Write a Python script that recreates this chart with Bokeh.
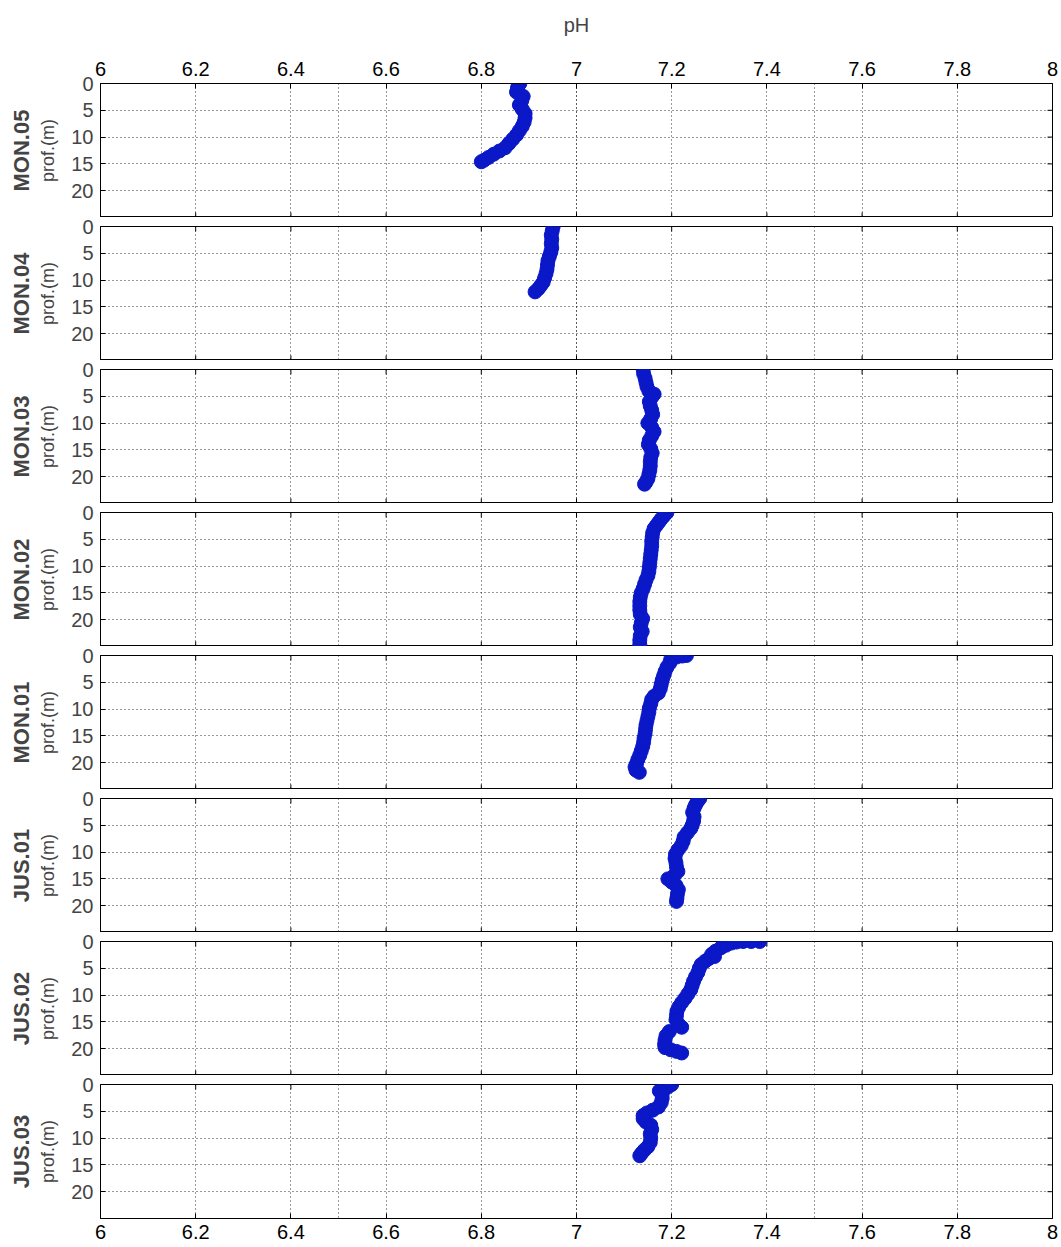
from bokeh.plotting import figure
from bokeh.models import Range1d, LinearAxis, FixedTicker, NumeralTickFormatter, Grid
from bokeh.layouts import column
from bokeh.embed import file_html
from bokeh.resources import INLINE

# ---------------- data ----------------
stations = ["MON.05", "MON.04", "MON.03", "MON.02", "MON.01", "JUS.01", "JUS.02", "JUS.03"]

mon05_depth = [0, 0.8, 1.6, 2.4, 3.2, 4.0, 4.8, 5.6, 6.4, 7.2, 8.0, 8.8, 9.6, 10.4, 11.2, 12.0, 12.6, 13.2, 13.8, 14.3, 14.6]
mon05_ph = [6.881, 6.876, 6.874, 6.888, 6.885, 6.880, 6.886, 6.892, 6.892, 6.890, 6.886, 6.880, 6.874, 6.866, 6.858, 6.850, 6.838, 6.826, 6.815, 6.806, 6.800]

mon04_depth = [0, 0.8, 1.6, 2.4, 3.2, 4.0, 4.8, 5.6, 6.4, 7.2, 8.0, 8.8, 9.6, 10.4, 11.0, 11.6, 12.2]
mon04_ph = [6.951, 6.949, 6.947, 6.948, 6.947, 6.948, 6.946, 6.943, 6.940, 6.939, 6.938, 6.936, 6.933, 6.930, 6.925, 6.920, 6.913]

mon03_depth = [0, 0.8, 1.6, 2.4, 3.2, 4.0, 4.6, 5.2, 6.0, 6.8, 7.6, 8.4, 9.2, 10.0, 10.8, 11.6, 12.4, 13.2, 14.0, 14.8, 15.6, 16.4, 17.2, 18.0, 18.8, 19.6, 20.4, 21.0, 21.4]
mon03_ph = [7.140, 7.141, 7.144, 7.146, 7.148, 7.152, 7.163, 7.158, 7.153, 7.155, 7.158, 7.160, 7.156, 7.150, 7.158, 7.163, 7.158, 7.153, 7.151, 7.156, 7.159, 7.156, 7.155, 7.155, 7.154, 7.152, 7.150, 7.146, 7.143]

mon02_depth = [0, 0.6, 1.2, 1.8, 2.4, 3.0, 3.8, 4.6, 5.4, 6.2, 7.0, 7.8, 8.6, 9.4, 10.2, 11.0, 11.8, 12.6, 13.4, 14.2, 15.0, 15.8, 16.6, 17.4, 18.2, 19.0, 19.8, 20.6, 21.4, 22.2, 23.0, 23.8, 24.6]
mon02_ph = [7.190, 7.184, 7.178, 7.173, 7.168, 7.163, 7.160, 7.159, 7.158, 7.158, 7.157, 7.156, 7.155, 7.154, 7.153, 7.152, 7.150, 7.146, 7.143, 7.140, 7.136, 7.134, 7.133, 7.133, 7.133, 7.134, 7.139, 7.136, 7.134, 7.138, 7.134, 7.133, 7.133]

mon01_depth = [0, 0.1, 0.3, 0.7, 1.4, 2.2, 3.0, 3.8, 4.6, 5.4, 6.2, 7.0, 7.6, 8.2, 9.0, 9.8, 10.6, 11.4, 12.2, 13.0, 13.8, 14.6, 15.4, 16.2, 17.0, 17.8, 18.6, 19.4, 20.2, 20.8, 21.4, 21.8]
mon01_ph = [7.231, 7.222, 7.210, 7.198, 7.196, 7.190, 7.186, 7.183, 7.180, 7.178, 7.176, 7.172, 7.163, 7.158, 7.156, 7.153, 7.152, 7.150, 7.148, 7.146, 7.145, 7.144, 7.142, 7.141, 7.139, 7.136, 7.133, 7.129, 7.126, 7.123, 7.125, 7.132]

jus01_depth = [0, 0.6, 1.2, 1.8, 2.6, 3.4, 4.2, 5.0, 5.6, 6.4, 7.2, 8.0, 8.8, 9.6, 10.4, 11.2, 12.0, 12.8, 13.6, 14.4, 15.0, 15.6, 16.2, 17.0, 17.8, 18.6, 19.2]
jus01_ph = [7.259, 7.254, 7.250, 7.247, 7.244, 7.247, 7.246, 7.243, 7.240, 7.233, 7.226, 7.224, 7.220, 7.213, 7.208, 7.207, 7.209, 7.210, 7.213, 7.205, 7.192, 7.200, 7.209, 7.214, 7.212, 7.211, 7.210]

jus02_depth = [0, 0, 0, 0.1, 0.3, 0.7, 1.2, 1.8, 2.4, 2.8, 3.2, 3.7, 4.3, 5.0, 5.8, 6.6, 7.4, 8.2, 9.0, 9.8, 10.6, 11.4, 12.2, 13.0, 13.8, 14.6, 15.4, 16.0, 16.8, 17.6, 18.4, 19.2, 19.8, 20.2, 20.5, 20.8]
jus02_ph = [7.385, 7.367, 7.350, 7.336, 7.325, 7.314, 7.303, 7.292, 7.284, 7.290, 7.278, 7.270, 7.262, 7.258, 7.255, 7.250, 7.246, 7.243, 7.240, 7.234, 7.228, 7.221, 7.215, 7.211, 7.210, 7.209, 7.214, 7.221, 7.195, 7.188, 7.186, 7.185, 7.186, 7.198, 7.210, 7.221]

jus03_depth = [0, 0.4, 0.8, 1.2, 1.8, 2.6, 3.4, 4.2, 4.8, 5.3, 5.8, 6.4, 7.0, 7.6, 8.4, 9.2, 10.0, 10.8, 11.6, 12.2, 12.8, 13.3]
jus03_ph = [7.200, 7.193, 7.185, 7.174, 7.180, 7.180, 7.178, 7.172, 7.160, 7.148, 7.140, 7.140, 7.146, 7.156, 7.158, 7.155, 7.156, 7.155, 7.150, 7.143, 7.137, 7.133]

ph_ticks = [6.0, 6.2, 6.4, 6.6, 6.8, 7.0, 7.2, 7.4, 7.6, 7.8, 8.0]
depth_ticks = [0, 5, 10, 15, 20]

profiles = [
    (mon05_ph, mon05_depth), (mon04_ph, mon04_depth), (mon03_ph, mon03_depth),
    (mon02_ph, mon02_depth), (mon01_ph, mon01_depth), (jus01_ph, jus01_depth),
    (jus02_ph, jus02_depth), (jus03_ph, jus03_depth),
]

# ---------------- styling / layout ----------------
FONT = "Liberation Sans"
BLUE = "#0a18c8"
TICK_FS = "20px"
X_LO, X_HI = 6.0, 8.0
D_MAX = 25.0
FRAME_W, FRAME_H = 952, 134
TICK_PX = 5
tick_dy = D_MAX * TICK_PX / FRAME_H          # tick length in depth units
tick_dx = (X_HI - X_LO) * TICK_PX / FRAME_W  # tick length in pH units


def style_x_label_axis(ax, standoff):
    ax.ticker = FixedTicker(ticks=ph_ticks)
    ax.formatter = NumeralTickFormatter(format="0.[0]")
    ax.major_label_text_font = FONT
    ax.major_label_text_font_size = TICK_FS
    ax.major_label_text_color = "black"
    ax.major_tick_in = TICK_PX
    ax.major_tick_out = 0
    ax.minor_tick_line_color = None
    ax.major_label_standoff = standoff
    ax.axis_line_color = "black"


inner_x = ph_ticks[1:-1]
inner_d = depth_ticks[1:]

figs = []
n = len(stations)
for i, (name, (ph, dep)) in enumerate(zip(stations, profiles)):
    top = i == 0
    bottom = i == n - 1
    p = figure(frame_width=FRAME_W, frame_height=FRAME_H,
               x_range=Range1d(X_LO, X_HI), y_range=Range1d(D_MAX, 0),
               x_axis_location=None, y_axis_location="left",
               output_backend="svg", toolbar_location=None,
               min_border_left=100, min_border_right=9,
               min_border_top=83 if top else 9,
               min_border_bottom=29 if bottom else 0,
               background_fill_color="white", border_fill_color="white")
    p.outline_line_color = "black"
    p.outline_line_width = 1

    # grids
    p.add_layout(Grid(dimension=0, ticker=FixedTicker(ticks=ph_ticks)))
    p.ygrid.ticker = FixedTicker(ticks=depth_ticks)
    for g in [r for r in p.center if isinstance(r, Grid)]:
        g.grid_line_color = "black"
        g.grid_line_dash = "1 3"
        g.grid_line_width = 1
        g.grid_line_alpha = 0.8

    # x axes with labels (top of first, bottom of last)
    if top:
        above = LinearAxis()
        style_x_label_axis(above, 8)
        above.axis_label = "pH"
        above.axis_label_text_font = FONT
        above.axis_label_text_font_size = "20px"
        above.axis_label_text_font_style = "normal"
        above.axis_label_standoff = 23
        p.add_layout(above, "above")
    if bottom:
        below = LinearAxis()
        style_x_label_axis(below, 6)
        p.add_layout(below, "below")

    # inward tick marks on edges without labelled axes
    if not top:
        p.segment(x0=inner_x, y0=[0] * len(inner_x), x1=inner_x, y1=[tick_dy] * len(inner_x),
                  line_color="black", line_width=1)
    if not bottom:
        p.segment(x0=inner_x, y0=[D_MAX] * len(inner_x), x1=inner_x, y1=[D_MAX - tick_dy] * len(inner_x),
                  line_color="black", line_width=1)
    p.segment(x0=[X_HI] * len(inner_d), y0=inner_d, x1=[X_HI - tick_dx] * len(inner_d), y1=inner_d,
              line_color="black", line_width=1)

    # y axes
    ya = p.yaxis[0]
    ya.ticker = FixedTicker(ticks=depth_ticks)
    ya.major_label_text_font = FONT
    ya.major_label_text_font_size = TICK_FS
    ya.major_tick_in = TICK_PX
    ya.major_tick_out = 0
    ya.minor_tick_line_color = None
    ya.major_label_standoff = 7
    ya.axis_label = "prof.(m)"
    ya.axis_label_text_font = FONT
    ya.axis_label_text_font_size = "18px"
    ya.axis_label_text_font_style = "normal"
    ya.axis_label_standoff = 10

    st = LinearAxis(ticker=FixedTicker(ticks=[]))
    st.axis_line_color = None
    st.major_tick_line_color = None
    st.minor_tick_line_color = None
    st.major_label_standoff = 0
    st.axis_label = name
    st.axis_label_text_font = FONT
    st.axis_label_text_font_size = "22px"
    st.axis_label_text_font_style = "bold"
    st.axis_label_standoff = 2
    p.add_layout(st, "left")

    p.line(ph, dep, line_color=BLUE, line_width=7)
    p.scatter(ph, dep, size=14, fill_color=BLUE, line_color=BLUE)
    figs.append(p)

layout = column(*figs, spacing=0)
open("out.html", "w").write(file_html(layout, INLINE))
